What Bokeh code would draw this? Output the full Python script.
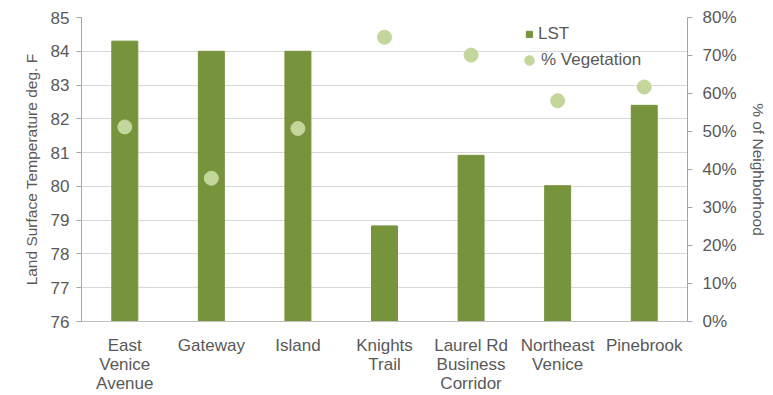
from bokeh.plotting import figure
from bokeh.models import Range1d, LinearAxis, FactorRange, NumeralTickFormatter, FixedTicker, ColumnDataSource, Legend, LegendItem
from bokeh.embed import file_html
from bokeh.resources import INLINE

categories = ["East\nVenice\nAvenue", "Gateway", "Island", "Knights\nTrail",
              "Laurel Rd\nBusiness\nCorridor", "Northeast\nVenice", "Pinebrook"]
lst = [84.3, 84.0, 84.0, 78.83, 80.92, 80.02, 82.4]
vegetation = [0.512, 0.377, 0.508, 0.748, 0.701, 0.581, 0.617]
left_ticks = [76, 77, 78, 79, 80, 81, 82, 83, 84, 85]
right_ticks = [0, 0.1, 0.2, 0.3, 0.4, 0.5, 0.6, 0.7, 0.8]

FONT = "Liberation Sans"
TXT = "#595959"
BAR = "#77933C"
DOT = "#C3D69B"

src = ColumnDataSource(dict(cat=categories, lst=lst, veg=vegetation))

p = figure(width=773, height=395, x_range=FactorRange(factors=categories, range_padding=0),
           y_range=Range1d(76, 85), output_backend="svg", toolbar_location=None,
           min_border_left=81, min_border_right=86, min_border_top=17, min_border_bottom=0)
p.extra_y_ranges = {"pct": Range1d(0, 0.8)}
p.outline_line_color = None
p.background_fill_color = "white"
p.border_fill_color = "white"

bars = p.vbar(x="cat", top="lst", bottom=76, width=0.3, source=src, color=BAR)
dots = p.scatter(x="cat", y="veg", source=src, size=14, color=DOT, y_range_name="pct")

# left axis
ya = p.yaxis[0]
ya.ticker = FixedTicker(ticks=left_ticks)
ya.axis_label = "Land Surface Temperature deg. F"
ya.axis_label_text_font = FONT
ya.axis_label_text_font_size = "15.5px"
ya.axis_label_text_font_style = "normal"
ya.axis_label_text_color = TXT
ya.axis_label_standoff = 8
ya.major_label_text_font = FONT
ya.major_label_text_font_size = "17px"
ya.major_label_text_color = TXT
ya.major_label_standoff = 7
ya.axis_line_color = "#A6A6A6"
ya.major_tick_line_color = "#A6A6A6"
ya.major_tick_out = 5
ya.major_tick_in = 0
ya.minor_tick_line_color = None

# right axis
ra = LinearAxis(y_range_name="pct", ticker=FixedTicker(ticks=right_ticks),
                formatter=NumeralTickFormatter(format="0%"))
ra.axis_label = "% of Neighborhood"
ra.axis_label_text_font = FONT
ra.axis_label_text_font_size = "15.5px"
ra.axis_label_text_font_style = "normal"
ra.axis_label_text_color = TXT
ra.axis_label_standoff = 10
ra.major_label_text_font = FONT
ra.major_label_text_font_size = "17px"
ra.major_label_text_color = TXT
ra.major_label_standoff = 10
ra.axis_line_color = "#A6A6A6"
ra.major_tick_line_color = "#A6A6A6"
ra.major_tick_out = 5
ra.major_tick_in = 0
ra.minor_tick_line_color = None
p.add_layout(ra, "right")

# x axis
xa = p.xaxis[0]
xa.major_label_text_font = FONT
xa.major_label_text_font_size = "17px"
xa.major_label_text_color = TXT
xa.major_label_text_line_height = 1.0
xa.major_label_standoff = 8
xa.axis_line_color = "#BFBFBF"
xa.major_tick_line_color = None
xa.minor_tick_line_color = None

p.xgrid.grid_line_color = None
p.ygrid.grid_line_color = "#D9D9D9"
p.ygrid.grid_line_width = 1

leg_common = dict(background_fill_alpha=0, border_line_color=None,
                  label_text_font=FONT, label_text_font_size="17px", label_text_color=TXT,
                  padding=0, spacing=0, margin=0)
legend1 = Legend(items=[LegendItem(label="LST", renderers=[bars])],
                 location=(444, 277), glyph_width=8, glyph_height=8, label_standoff=5,
                 **leg_common)
legend2 = Legend(items=[LegendItem(label="% Vegetation", renderers=[dots])],
                 location=(436, 249), glyph_width=24, glyph_height=24, label_standoff=0,
                 **leg_common)
p.add_layout(legend1)
p.add_layout(legend2)

open("out.html", "w").write(file_html(p, INLINE))
